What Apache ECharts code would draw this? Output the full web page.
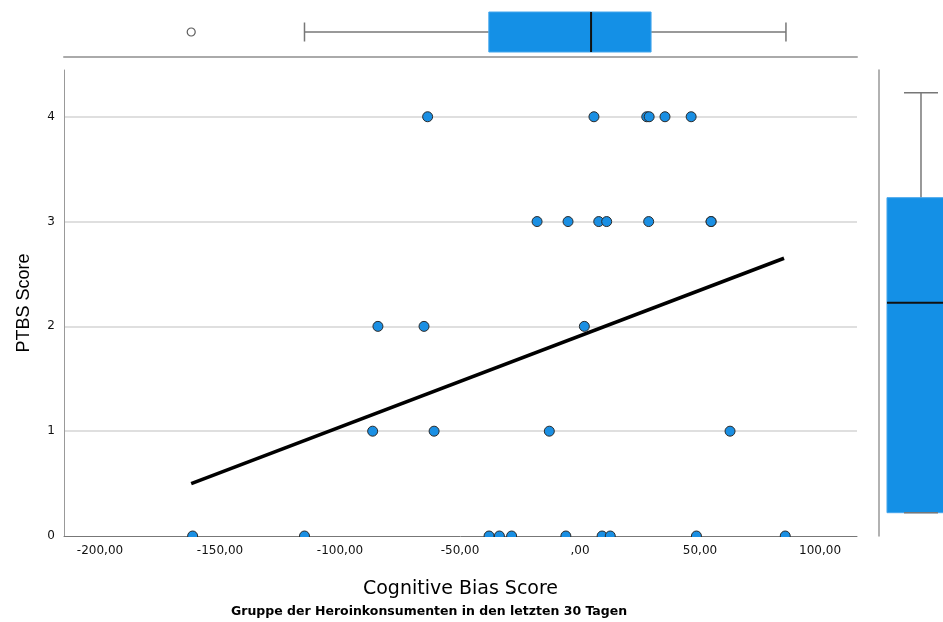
<!DOCTYPE html>
<html>
<head>
<meta charset="utf-8">
<script src="https://cdn.jsdelivr.net/npm/echarts@6/dist/echarts.min.js"></script>
<style>
  html, body { margin: 0; padding: 0; background: #fff; }
  #chart { width: 943px; height: 622px; }
</style>
</head>
<body>
<div id="chart"></div>
<script>
// scatter points (Cognitive Bias Score vs PTBS Score)
var biasScore = [
  -161.4, -114.8, -37.9, -33.6, -28.5, -5.9, 9.2, 12.6, 48.5, 85.5,
  -86.4, -60.8, -12.8, 62.5,
  -84.2, -65.0, 1.8,
  -17.9, -5.0, 7.8, 11.1, 28.6, 54.6, 54.6,
  -63.5, 5.8, 27.8, 28.8, 35.4, 46.3
];
var ptbsScore = [
  0, 0, 0, 0, 0, 0, 0, 0, 0, 0,
  1, 1, 1, 1,
  2, 2, 2,
  3, 3, 3, 3, 3, 3, 3,
  4, 4, 4, 4, 4, 4
];
// fit line end points
var fitX = [-162, 85];
var fitY = [0.5, 2.65];
// marginal boxplots: [min, q1, median, q3, max]
var biasBox = [-114.8, -38.0, 4.6, 29.6, 85.8];
var biasOutliers = [-162];
var ptbsBox = [0, 0, 2, 3, 4];
// tick labels
var xTicks = [-200, -150, -100, -50, 0, 50, 100];
var xTickLabels = ['-200,00', '-150,00', '-100,00', '-50,00', ',00', '50,00', '100,00'];
var yTicks = [0, 1, 2, 3, 4];

var BLUE = '#1490e6';
var FONT = '"DejaVu Sans", sans-serif';
var FONT_NARROW = '"Liberation Sans", Arial, sans-serif';

var points = [];
for (var i = 0; i < biasScore.length; i++) {
  points.push([biasScore[i], ptbsScore[i]]);
}
var fitLine = [];
for (var i = 0; i < fitX.length; i++) {
  fitLine.push([fitX[i], fitY[i]]);
}
var outlierPts = [];
for (var i = 0; i < biasOutliers.length; i++) {
  outlierPts.push([biasOutliers[i], 0.5]);
}

var whisker = { stroke: '#777', lineWidth: 1.5 };

// horizontal box on the top panel
var renderTopBox = function(params, api) {
  var p = [];
  for (var k = 0; k < 5; k++) p.push(api.coord([api.value(k), 0.5]));
  var h = 40, cap = 9.5, y = p[0][1];
  return {
    type: 'group',
    children: [
      { type: 'line', shape: { x1: p[0][0], y1: y, x2: p[1][0], y2: y }, style: whisker },
      { type: 'line', shape: { x1: p[3][0], y1: y, x2: p[4][0], y2: y }, style: whisker },
      { type: 'line', shape: { x1: p[0][0], y1: y - cap, x2: p[0][0], y2: y + cap }, style: whisker },
      { type: 'line', shape: { x1: p[4][0], y1: y - cap, x2: p[4][0], y2: y + cap }, style: whisker },
      { type: 'rect', shape: { x: p[1][0], y: y - h / 2, width: p[3][0] - p[1][0], height: h },
        style: { fill: BLUE, stroke: '#45a6ec', lineWidth: 1 } },
      { type: 'line', shape: { x1: p[2][0], y1: y - h / 2, x2: p[2][0], y2: y + h / 2 },
        style: { stroke: '#111', lineWidth: 2 } }
    ]
  };
};

// vertical box on the right panel (cut off by the right edge)
var renderRightBox = function(params, api) {
  var p = [];
  for (var k = 0; k < 5; k++) p.push(api.coord([0.5, api.value(k)]));
  var w = 68, cap = 17, x = p[0][0];
  return {
    type: 'group',
    children: [
      { type: 'line', shape: { x1: x, y1: p[0][1], x2: x, y2: p[1][1] }, style: whisker },
      { type: 'line', shape: { x1: x, y1: p[3][1], x2: x, y2: p[4][1] }, style: whisker },
      { type: 'rect', shape: { x: x - w / 2, y: p[3][1], width: w, height: p[1][1] - p[3][1] },
        style: { fill: BLUE, stroke: '#45a6ec', lineWidth: 1 } },
      { type: 'line', shape: { x1: x - cap, y1: p[0][1], x2: x + cap, y2: p[0][1] }, style: whisker },
      { type: 'line', shape: { x1: x - cap, y1: p[4][1], x2: x + cap, y2: p[4][1] }, style: whisker },
      { type: 'line', shape: { x1: x - w / 2, y1: p[2][1], x2: x + w / 2, y2: p[2][1] },
        style: { stroke: '#111', lineWidth: 2 } }
    ]
  };
};

var chart = echarts.init(document.getElementById('chart'));
var option = {
  animation: false,
  backgroundColor: '#fff',
  textStyle: { fontFamily: FONT },
  title: {
    text: 'Gruppe der Heroinkonsumenten in den letzten 30 Tagen',
    left: 231,
    top: 605,
    padding: 0,
    textStyle: { fontSize: 12.5, fontWeight: 'bold', color: '#000', fontFamily: FONT }
  },
  grid: [
    { left: 64, right: 86, top: 70, bottom: 86 },
    { left: 64, right: 86, top: 7, height: 50 },
    { left: 879, right: 0, top: 70, bottom: 86 }
  ],
  xAxis: [
    {
      gridIndex: 0, type: 'value', min: -215, max: 115.4,
      name: 'Cognitive Bias Score', nameLocation: 'middle', nameGap: 44,
      nameTextStyle: { fontSize: 19, color: '#000', fontFamily: FONT },
      axisLine: { show: true, onZero: false, lineStyle: { color: '#777', width: 1 } },
      axisTick: { show: false },
      splitLine: { show: false },
      axisLabel: {
        customValues: xTicks, margin: 9, fontSize: 12, color: '#111', fontFamily: FONT,
        formatter: function(v) {
          var idx = xTicks.indexOf(v);
          return idx >= 0 ? xTickLabels[idx] : '';
        }
      }
    },
    {
      gridIndex: 1, type: 'value', min: -215, max: 115.4,
      axisLine: { show: true, onZero: false, lineStyle: { color: '#aaa', width: 2 } },
      axisTick: { show: false }, axisLabel: { show: false }, splitLine: { show: false }
    },
    {
      // panel is 64px wide, box centre sits 42px in
      gridIndex: 2, type: 'value', min: 0, max: 0.762, show: false
    }
  ],
  yAxis: [
    {
      gridIndex: 0, type: 'value', min: 0, max: 4.446, interval: 1,
      name: 'PTBS Score', nameLocation: 'middle', nameGap: 31,
      nameTextStyle: { fontSize: 18, color: '#000', fontFamily: FONT_NARROW },
      axisLine: { show: true, onZero: false, lineStyle: { color: '#999', width: 1 } },
      axisTick: { show: false },
      splitLine: { show: true, showMaxLine: false, showMinLine: false, lineStyle: { color: '#d4d4d4', width: 1.5 } },
      axisLabel: { customValues: yTicks, margin: 9, fontSize: 12, color: '#111', fontFamily: FONT }
    },
    {
      gridIndex: 1, type: 'value', min: 0, max: 1, show: false
    },
    {
      gridIndex: 2, type: 'value', min: -0.222, max: 4.216,
      axisLine: { show: true, onZero: false, lineStyle: { color: '#999', width: 1.5 } },
      axisTick: { show: false }, axisLabel: { show: false }, splitLine: { show: false }
    }
  ],
  series: [
    {
      name: 'fit', type: 'line', xAxisIndex: 0, yAxisIndex: 0,
      data: fitLine, symbol: 'none', z: 3,
      lineStyle: { color: '#000', width: 3.5 }
    },
    {
      name: 'points', type: 'scatter', xAxisIndex: 0, yAxisIndex: 0,
      data: points, symbolSize: 10, z: 4,
      itemStyle: { color: '#1a8fe3', borderColor: '#2b2b2b', borderWidth: 1, opacity: 1 }
    },
    {
      name: 'biasBox', type: 'custom', xAxisIndex: 1, yAxisIndex: 1,
      data: [biasBox], renderItem: renderTopBox, z: 3
    },
    {
      name: 'biasOutlier', type: 'scatter', xAxisIndex: 1, yAxisIndex: 1,
      data: outlierPts, symbol: 'circle', symbolSize: 8,
      itemStyle: { color: '#fff', borderColor: '#333', borderWidth: 1.2 }
    },
    {
      name: 'ptbsBox', type: 'custom', xAxisIndex: 2, yAxisIndex: 2,
      data: [ptbsBox], renderItem: renderRightBox, z: 3
    }
  ],
  graphic: [
    {
      // hide the lower half of the dots sitting on the x axis
      type: 'rect', z: 100, silent: true,
      shape: { x: 55, y: 537, width: 810, height: 6 },
      style: { fill: '#fff' }
    }
  ]
};
chart.setOption(option);
</script>
</body>
</html>
